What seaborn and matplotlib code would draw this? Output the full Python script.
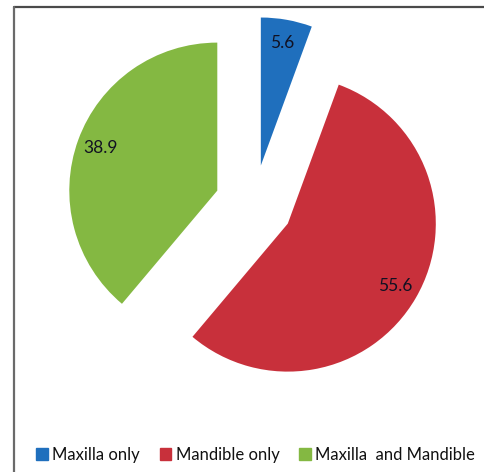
import matplotlib
matplotlib.use("Agg")
import matplotlib.pyplot as plt
import seaborn as sns
from matplotlib.patches import Rectangle
from matplotlib.lines import Line2D

sns.set_theme(style="white")
plt.rcParams['font.family'] = ['Lato', 'DejaVu Sans']

categories = ["Maxilla only", "Mandible only", "Maxilla  and Mandible"]
values = [5.6, 55.6, 38.9]
value_labels = ["5.6", "55.6", "38.9"]
colors = ["#1f6fbd", "#c8303b", "#84b842"]

W, H = 485, 472
fig = plt.figure(figsize=(W / 100, H / 100), dpi=100)
ax = fig.add_axes([0, 0, 1, 1])

R = 148.0
cx, cy = 254.0, 204.0
lab_iter = iter(value_labels)
wedges, texts, autotexts = ax.pie(
    values, colors=colors, startangle=90, counterclock=False,
    explode=[0.264] * 3, autopct=lambda p: next(lab_iter), pctdistance=0.84,
    wedgeprops=dict(linewidth=0),
    textprops=dict(fontsize=12.5, color="#111122"))

ax.set_xlim(-cx / R, (W - cx) / R)
ax.set_ylim(-(H - cy) / R, cy / R)
ax.set_aspect('auto')
ax.axis('off')

# border lines (top and left)
fig.add_artist(Line2D([13.5 / W, 1], [1 - 6.5 / H, 1 - 6.5 / H], color="#4a4a4a", lw=1.6, transform=fig.transFigure))
fig.add_artist(Line2D([13.5 / W, 13.5 / W], [0, 1 - 6.5 / H], color="#6a6a6a", lw=1.6, transform=fig.transFigure))

# legend
handles = [Rectangle((0, 0), 1, 1, color=c) for c in colors]
leg = fig.legend(handles, categories, loc="center", bbox_to_anchor=(0.527, 1 - 455 / H),
                 ncol=3, frameon=False, handlelength=0.7, handleheight=0.7,
                 handletextpad=0.25, columnspacing=1.2, borderpad=0.2,
                 prop=dict(size=12))
for t in leg.get_texts():
    t.set_color("#111111")

fig.savefig("out.png", dpi=100)
